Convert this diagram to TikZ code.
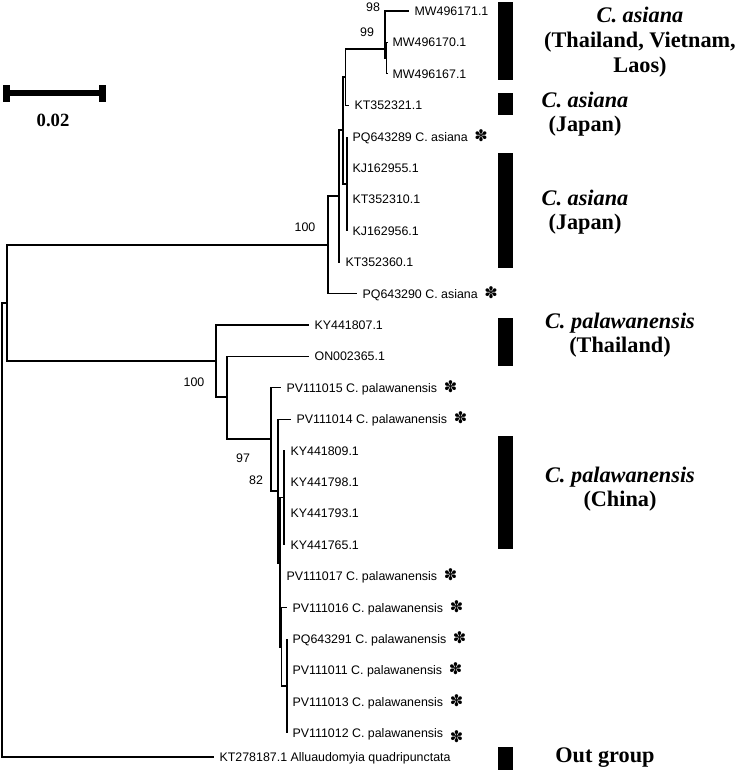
\documentclass[tikz,border=0pt]{standalone}
\usepackage{fontspec}
\setmainfont{Liberation Serif}
\setsansfont{Liberation Sans}
\newfontfamily\dejavu{DejaVu Sans}
\usetikzlibrary{positioning}

% sequences of this study
\newcommand{\newseq}{\hspace{5pt}{\dejavu\fontsize{12}{12}\selectfont ✽}}

\tikzset{
  branch/.style={line width=0.8pt},
  leaf/.style={anchor=west, inner sep=4pt, text height=6.7pt, text depth=0pt,
    font=\sffamily\fontsize{9.3}{11}\selectfont},
  boot/.style={inner sep=0pt, font=\sffamily\fontsize{9.3}{11}\selectfont},
  clade/.style={align=center, inner sep=0pt, font=\bfseries\fontsize{16.7}{17.5}\selectfont},
}

\begin{document}
\begin{tikzpicture}[x=0.75pt,y=-0.75pt]
\useasboundingbox (0,0) rectangle (738,778);

% internal nodes
\coordinate (root)  at (2,530);
\coordinate (ingrp) at (7,303);
\coordinate (asia)  at (328,245);
\coordinate (asiaB) at (339,196);
\coordinate (asiaC) at (343,130);
\coordinate (asiaD) at (345.5,77);
\coordinate (mwo)   at (385,49);
\coordinate (mwi)   at (386.5,58);
\coordinate (japan) at (347,184);
\coordinate (pala)  at (216,361);
\coordinate (palaB) at (227,397);
\coordinate (palaC) at (271,439);
\coordinate (palaD) at (278,491);
\coordinate (palaE) at (280,563);
\coordinate (palaF) at (281.5,647);
\coordinate (china) at (284,497.7);
\coordinate (pvgrp) at (287,686);

% leaves, C. asiana
\node[leaf] (l1)  at (409,11)    {MW496171.1};
\node[leaf] (l2)  at (387,42.4)  {MW496170.1};
\node[leaf] (l3)  at (387,73.8)  {MW496167.1};
\node[leaf] (l4)  at (349,105.2) {KT352321.1};
\node[leaf] (l5)  at (347,136.6) {PQ643289 C. asiana\newseq};
\node[leaf] (l6)  at (347,168)   {KJ162955.1};
\node[leaf] (l7)  at (347,199.4) {KT352310.1};
\node[leaf] (l8)  at (347,230.8) {KJ162956.1};
\node[leaf] (l9)  at (340,262.2) {KT352360.1};
\node[leaf] (l10) at (357,293.6) {PQ643290 C. asiana\newseq};
% leaves, C. palawanensis
\node[leaf] (l11) at (309,325)   {KY441807.1};
\node[leaf] (l12) at (309,356.4) {ON002365.1};
\node[leaf] (l13) at (281,387.8) {PV111015 C. palawanensis\newseq};
\node[leaf] (l14) at (291,419.2) {PV111014 C. palawanensis\newseq};
\node[leaf] (l15) at (285,450.6) {KY441809.1};
\node[leaf] (l16) at (285,482)   {KY441798.1};
\node[leaf] (l17) at (285,513.4) {KY441793.1};
\node[leaf] (l18) at (285,544.8) {KY441765.1};
\node[leaf] (l19) at (281,576.2) {PV111017 C. palawanensis\newseq};
\node[leaf] (l20) at (287,607.6) {PV111016 C. palawanensis\newseq};
\node[leaf] (l21) at (287,639)   {PQ643291 C. palawanensis\newseq};
\node[leaf] (l22) at (287,670.4) {PV111011 C. palawanensis\newseq};
\node[leaf] (l23) at (287,701.8) {PV111013 C. palawanensis\newseq};
\node[leaf] (l24) at (287,733.2) {PV111012 C. palawanensis\raisebox{-3.5pt}{\newseq}};
% outgroup
\node[leaf] (out) at (214,757) {KT278187.1 Alluaudomyia quadripunctata};

% branches
\draw[branch] (root) |- (ingrp) (root) |- (out.west);
\draw[branch] (ingrp) |- (asia) (ingrp) |- (pala);
% C. asiana clade
\draw[branch] (asia) |- (asiaB) (asia) |- (l10.west);
\draw[branch] (asiaB) |- (asiaC) (asiaB) |- (l9.west);
\draw[branch] (asiaC) |- (asiaD) (asiaC) |- (japan);
\draw[branch] (asiaD) |- (mwo) (asiaD) |- (l4.west);
\draw[branch] (mwo) |- (l1.west) (mwo) |- (mwi);
\draw[branch] (mwi) |- (l2.west) (mwi) |- (l3.west);
\draw[branch] (japan) |- (l5.west) (japan) |- (l6.west)
  (japan) |- (l7.west) (japan) |- (l8.west);
% C. palawanensis clade
\draw[branch] (pala) |- (l11.west) (pala) |- (palaB);
\draw[branch] (palaB) |- (l12.west) (palaB) |- (palaC);
\draw[branch] (palaC) |- (l13.west) (palaC) |- (palaD);
\draw[branch] (palaD) |- (l14.west) (palaD) |- (palaE);
\draw[branch] (palaE) |- (china) (palaE) |- (l19.west) (palaE) |- (palaF);
\draw[branch] (palaF) |- (l20.west) (palaF) |- (pvgrp);
\draw[branch] (china) |- (l15.west) (china) |- (l16.west)
  (china) |- (l17.west) (china) |- (l18.west);
\draw[branch] (pvgrp) |- (l21.west) (pvgrp) |- (l22.west)
  (pvgrp) |- (l23.west) (pvgrp) |- (l24.west);

% bootstrap values
\node[boot] (b98)  at (373,7)   {98};
\node[boot] (b99)  at (367,32)  {99};
\node[boot] (b100a) at (305,227) {100};
\node[boot] (b100p) at (194,382) {100};
\node[boot] (b97)  at (243,458) {97};
\node[boot] (b82)  at (256,480) {82};

% clade bars
\fill (498,2) rectangle (513,80);
\fill (498,93) rectangle (513,115);
\fill (498,153) rectangle (513,268);
\fill (498,318) rectangle (513,366);
\fill (498,436) rectangle (513,549);
\fill (498,747) rectangle (513,770);

% clade labels
\node[clade, font=\bfseries\fontsize{16.7}{18.5}\selectfont] (cA1) at (640,42)
  {\textit{C. asiana}\\(Thailand, Vietnam,\\Laos)};
\node[clade] (cA2) at (585,114) {\textit{C. asiana}\\(Japan)};
\node[clade] (cA3) at (585,212) {\textit{C. asiana}\\(Japan)};
\node[clade] (cP1) at (620,335) {\textit{C. palawanensis}\\(Thailand)};
\node[clade] (cP2) at (620,489) {\textit{C. palawanensis}\\(China)};
\node[clade] (cOut) at (605,758) {Out group};

% scale bar
\coordinate (sbL) at (6,93);
\coordinate (sbR) at (103,93);
\draw[line width=4pt] (sbL) -- (sbR);
\fill (3,85) rectangle (10,102);
\fill (99,85) rectangle (106,102);
\node[inner sep=0pt, font=\bfseries\fontsize{14}{14}\selectfont] (sbtxt) at (53,120) {0.02};
\end{tikzpicture}
\end{document}
